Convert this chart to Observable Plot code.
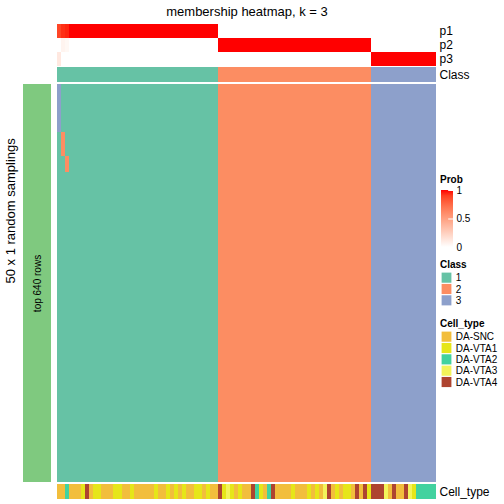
<!DOCTYPE html>
<html><head><meta charset="utf-8">
<script src="https://cdn.jsdelivr.net/npm/d3@7"></script>
<script src="https://cdn.jsdelivr.net/npm/@observablehq/plot@0.6"></script>
<style>
body{margin:0;background:white;}
#root{position:relative;width:504px;height:504px;overflow:hidden;font-family:"Liberation Sans",Arial,Helvetica,sans-serif;background:white;}
#root svg{position:absolute;overflow:visible;background:transparent;max-width:none;}
.t{position:absolute;white-space:nowrap;color:black;}
</style></head><body><div id="root"></div>
<script>
// ---------- data ----------
const title = "membership heatmap, k = 3";
const rowTitle = "50 x 1 random samplings";
const rowGroup = "top 640 rows";
const probNames = ["p1", "p2", "p3"];
const classLevels = [1, 2, 3];
const classColors = ["#66C2A5", "#FC8D62", "#8DA0CB"];
const cellTypes = ["DA-SNC", "DA-VTA1", "DA-VTA2", "DA-VTA3", "DA-VTA4"];
const cellTypeColors = ["#F2BE3C", "#E6E619", "#42D29F", "#F3F45A", "#AE4430"];
const nSamplings = 50;
// consensus class of each of the 94 samples (columns)
const sampleClass = [
  1,1,1,1,1,1,1,1,1,1, 1,1,1,1,1,1,1,1,1,1, 1,1,1,1,1,1,1,1,1,1, 1,1,1,1,1,1,1,1,1,1,
  2,2,2,2,2,2,2,2,2,2, 2,2,2,2,2,2,2,2,2,2, 2,2,2,2,2,2,2,2,2,2, 2,2,2,2,2,2,2,2,
  3,3,3,3,3,3,3,3,3,3, 3,3,3,3,3,3
];
// samplings where a sample got a different class: [column, first row, last row, class]
const deviations = [
  [0, 0, 5, 3],
  [1, 6, 8, 2],
  [2, 9, 10, 2]
];
const S = "DA-SNC", V1 = "DA-VTA1", V2 = "DA-VTA2", V3 = "DA-VTA3", V4 = "DA-VTA4";
const sampleCellType = [
  S,S,V2,S,S,S,V1,V4,S,V1, V1,S,S,S,V1,V1,S,S,V1,S, S,S,S,S,V1,S,S,V1,S,V1,
  S,V1,S,S,V1,V1,S,V1,S,S, V4,V1,V3,V1,S,V1,S,S,V4,V2, V1,S,V2,V4,S,S,S,S,V1,S,
  S,S,V1,S,V1,S,V3,V4,S,V1, S,V1,V1,S,V4,S,V4,V1,V4,V4, V4,V3,S,V4,S,S,V4,V3,V1,V2,
  V2,V2,V2,V2
];
const probTicks = [0, 0.5, 1];

// ---------- derived tables ----------
const N = sampleClass.length;
const cols = d3.range(N);
const rows = d3.range(nSamplings);
const membership = rows.map(() => sampleClass.slice());
for (const [c, r0, r1, k] of deviations) for (let r = r0; r <= r1; r++) membership[r][c] = k;
const heatCells = [];
for (const r of rows) for (const c of cols) heatCells.push({row: r, col: c, cls: membership[r][c]});
const probCells = [];
for (const c of cols) classLevels.forEach((k, i) => {
  const v = d3.mean(rows, r => membership[r][c] === k ? 1 : 0);
  probCells.push({col: c, p: probNames[i], value: v});
});

// ---------- layout helpers ----------
const FONT = '"Liberation Sans", Arial, Helvetica, sans-serif';
const root = document.getElementById("root");
const style = (fs) => ({fontFamily: FONT, fontSize: fs + "px", background: "transparent", overflow: "visible"});
function place(el, left, top) { el.style.left = left + "px"; el.style.top = top + "px"; root.appendChild(el); return el; }
function label(text, left, cy, fs, opts = {}) {
  const d = document.createElement("div");
  d.className = "t"; d.textContent = text;
  d.style.fontSize = fs + "px"; d.style.lineHeight = (fs + 2) + "px";
  d.style.height = (fs + 2) + "px";
  if (opts.bold) d.style.fontWeight = "bold";
  if (opts.width) { d.style.width = opts.width + "px"; d.style.textAlign = "center"; }
  return place(d, left, cy - (fs + 2) / 2);
}
const HX = 57, HW = 379;
const classColor = {type: "ordinal", domain: classLevels, range: classColors};
const xBand = {type: "band", domain: cols, padding: 0, round: false, axis: null};

// title
label(title, 0, 11, 13, {width: 494});

// probability annotation
place(Plot.plot({
  width: HW + 40, height: 42, marginLeft: 0, marginRight: 40, marginTop: 0, marginBottom: 0,
  x: xBand,
  y: {type: "band", domain: probNames, padding: 0, round: false, axis: "right", tickSize: 0, tickPadding: 3, label: null},
  color: {type: "linear", domain: [0, 1], range: ["white", "red"], interpolate: d3.interpolateLab},
  style: style(12),
  marks: [Plot.cell(probCells, {x: "col", y: "p", fill: "value", inset: 0, shapeRendering: "crispEdges"})]
}), HX, 24);

// class annotation
place(Plot.plot({
  width: HW + 40, height: 14.5, marginLeft: 0, marginRight: 40, marginTop: 0, marginBottom: 0,
  x: xBand,
  y: {type: "band", domain: ["Class"], padding: 0, round: false, axis: "right", tickSize: 0, tickPadding: 3, label: null},
  color: classColor,
  style: style(12),
  marks: [Plot.cell(cols, {x: d => d, y: () => "Class", fill: d => sampleClass[d], inset: 0, shapeRendering: "crispEdges"})]
}), HX, 67);

// membership heatmap
place(Plot.plot({
  width: HW, height: 398, margin: 0,
  x: xBand,
  y: {type: "band", domain: rows, padding: 0, round: false, axis: null},
  color: classColor,
  style: style(12),
  marks: [Plot.cell(heatCells, {x: "col", y: "row", fill: "cls", inset: 0, shapeRendering: "crispEdges"})]
}), HX, 84);

// cell type annotation
place(Plot.plot({
  width: HW + 60, height: 15, marginLeft: 0, marginRight: 60, marginTop: 0, marginBottom: 0,
  x: xBand,
  y: {type: "band", domain: ["Cell_type"], padding: 0, round: false, axis: "right", tickSize: 0, tickPadding: 3, label: null},
  color: {type: "ordinal", domain: cellTypes, range: cellTypeColors},
  style: style(12),
  marks: [Plot.cell(cols, {x: d => d, y: () => "Cell_type", fill: d => sampleCellType[d], inset: 0, shapeRendering: "crispEdges"})]
}), HX, 484);

// row group bar + row title
place(Plot.plot({
  width: 51, height: 398, marginLeft: 23, marginRight: 0, marginTop: 0, marginBottom: 0,
  x: {type: "band", domain: [rowGroup], padding: 0, round: false, axis: null},
  y: {type: "band", domain: [rowGroup], padding: 0, round: false, axis: null},
  style: style(10),
  marks: [
    Plot.cell([rowGroup], {x: d => d, y: d => d, fill: "#7FC97F"}),
    Plot.text([rowGroup], {x: d => d, y: d => d, text: d => d, rotate: -90, fontSize: 10, fill: "black"}),
    Plot.text([rowTitle], {frameAnchor: "left", dx: -13, text: d => d, rotate: -90, fontSize: 13, fill: "black"})
  ]
}), 0, 84);

// ---------- legends ----------
label("Prob", 440, 180, 10, {bold: true});
const probLegend = Plot.plot({
  width: 12 + 30, height: 57, marginLeft: 0, marginRight: 30, marginTop: 0, marginBottom: 0,
  x: {type: "linear", domain: [0, 1], axis: null},
  y: {type: "linear", domain: [0, 1], axis: "right", ticks: probTicks, tickSize: 0, tickPadding: 3, tickFormat: d => String(d), label: null},
  style: style(10),
  marks: [
    Plot.rect([0], {x1: 0, x2: 1, y1: 0, y2: 1, fill: "url(#probGrad)"}),
    Plot.ruleY(probTicks, {x1: 0.6, x2: 1, stroke: "white", strokeWidth: 1})
  ]
});
const grad = d3.select(probLegend).insert("defs", ":first-child").append("linearGradient")
  .attr("id", "probGrad").attr("x1", 0).attr("y1", 1).attr("x2", 0).attr("y2", 0);
const ramp = d3.interpolateLab("white", "red");
for (const t of d3.range(0, 1.0001, 0.1)) grad.append("stop").attr("offset", t).attr("stop-color", ramp(t));
place(probLegend, 441, 190);

label("Class", 440, 265, 10, {bold: true});
place(Plot.plot({
  width: 11.3 + 30, height: 34, marginLeft: 0, marginRight: 30, marginTop: 0, marginBottom: 0,
  x: {type: "band", domain: ["s"], padding: 0, axis: null},
  y: {type: "band", domain: classLevels, padding: 0, round: false, axis: "right", tickSize: 0, tickPadding: 3, label: null},
  color: classColor,
  style: style(10),
  marks: [Plot.cell(classLevels, {x: () => "s", y: d => d, fill: d => d, inset: 0.6})]
}), 441, 271.5);

label("Cell_type", 440, 324, 10, {bold: true});
place(Plot.plot({
  width: 11.3 + 50, height: 56.7, marginLeft: 0, marginRight: 50, marginTop: 0, marginBottom: 0,
  x: {type: "band", domain: ["s"], padding: 0, axis: null},
  y: {type: "band", domain: cellTypes, padding: 0, round: false, axis: "right", tickSize: 0, tickPadding: 3, label: null},
  color: {type: "ordinal", domain: cellTypes, range: cellTypeColors},
  style: style(10),
  marks: [Plot.cell(cellTypes, {x: () => "s", y: d => d, fill: d => d, inset: 0.6})]
}), 441, 331);
</script></body></html>
